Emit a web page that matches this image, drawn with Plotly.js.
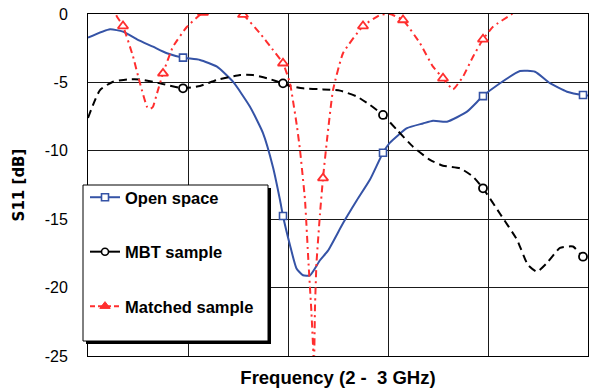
<!DOCTYPE html>
<html>
<head>
<meta charset="utf-8">
<script src="https://cdn.plot.ly/plotly-3.0.1.min.js"></script>
<style>html,body{margin:0;padding:0;background:#fff;}#chart{width:591px;height:388px;}</style>
</head>
<body>
<div id="chart"></div>
<script>
// ---- Data ----
const openFreq = [2.000,2.044,2.070,2.098,2.130,2.158,2.190,2.224,2.258,2.290,2.324,2.350,2.370,2.384,2.390,2.404,2.417,2.430,2.444,2.464,2.480,2.510,2.538,2.564,2.590,2.604,2.638,2.670,2.690,2.718,2.758,2.790,2.824,2.864,2.894,2.924,2.958,2.990,3.000];
const openVals = [-1.73,-1.12,-1.29,-1.85,-2.39,-2.87,-3.19,-3.36,-3.85,-4.95,-6.78,-8.7,-11.2,-13.6,-14.77,-16.9,-18.6,-19.1,-19.1,-18.0,-17.3,-15.3,-13.6,-12.1,-10.14,-9.4,-8.35,-8.0,-7.8,-7.87,-7.14,-6.0,-5.06,-4.17,-4.22,-5.06,-5.68,-5.92,-5.95];
const openMarks = [2.190,2.390,2.590,2.790,2.990];

const mbtFreq = [2.000,2.024,2.050,2.078,2.104,2.144,2.190,2.224,2.258,2.304,2.330,2.358,2.390,2.404,2.430,2.470,2.504,2.538,2.564,2.590,2.618,2.650,2.684,2.710,2.744,2.770,2.790,2.824,2.858,2.880,2.898,2.918,2.944,2.970,2.990,3.000];
const mbtVals = [-7.6,-5.56,-4.95,-4.78,-4.78,-5.07,-5.43,-5.26,-4.82,-4.46,-4.46,-4.70,-5.07,-5.26,-5.43,-5.51,-5.60,-6.04,-6.65,-7.38,-8.48,-9.70,-10.67,-11.09,-11.28,-11.89,-12.74,-14.6,-16.5,-18.35,-18.84,-18.2,-17.1,-17.0,-17.74,-17.8];
const mbtMarks = [2.190,2.390,2.590,2.790,2.990];

const matchFreq = [2.040,2.058,2.070,2.090,2.104,2.118,2.124,2.130,2.138,2.150,2.170,2.198,2.230,2.260,2.290,2.310,2.344,2.370,2.390,2.404,2.418,2.424,2.434,2.441,2.447,2.451,2.4518,2.4525,2.454,2.457,2.464,2.470,2.478,2.490,2.510,2.550,2.584,2.604,2.630,2.664,2.690,2.710,2.730,2.750,2.770,2.790,2.810,2.848,2.870,2.920,2.950,3.000];
const matchVals = [1.0,-0.2,-0.88,-3.1,-5.07,-6.78,-6.95,-6.78,-5.8,-4.34,-2.39,-0.93,0.1,0.4,0.2,-0.05,-1.41,-2.63,-3.6,-5.07,-8.24,-9.94,-13.6,-18.2,-21.9,-25.0,-25.8,-25.0,-21.4,-18.2,-14.6,-12.0,-9.2,-5.56,-2.87,-0.88,-0.07,0.0,-0.44,-2.14,-3.85,-4.7,-5.51,-4.58,-3.12,-1.85,-0.93,0.0,0.5,1.0,1.0,1.0];
const matchMarks = [2.070,2.150,2.230,2.310,2.390,2.470,2.550,2.630,2.710,2.790,2.870,2.950];

const seriesNames = ['Open space','MBT sample','Matched sample'];
const yTickVals = [0,-5,-10,-15,-20,-25];
const yTickLabels = ['0','-5','-10','-15','-20','-25'];
const xGridVals = [2.0,2.2,2.4,2.6,2.8,3.0];

// ---- helpers ----
function pick(freq, vals, marks){
  return marks.map(m => {
    let best = 0, bd = 1e9;
    freq.forEach((f,i)=>{ const d = Math.abs(f-m); if(d<bd){bd=d;best=i;} });
    return vals[best];
  });
}

const BLUE = '#3553a6', BLACK = '#000000', RED = '#ff2e2e';
const BLACK_DASH = '8px,5px';
const RED_DASH = '7px,4px,2px,4px';

const traces = [
  {x: openFreq, y: openVals, mode:'lines', line:{color:BLUE, width:2, shape:'spline', smoothing:0.5}, showlegend:false, hoverinfo:'skip'},
  {x: openMarks, y: pick(openFreq, openVals, openMarks), mode:'markers', marker:{symbol:'square', size:7, color:'white', line:{color:BLUE, width:1.6}}, showlegend:false},
  {x: mbtFreq, y: mbtVals, mode:'lines', line:{color:BLACK, width:2, dash:BLACK_DASH, shape:'spline', smoothing:0.5}, showlegend:false, hoverinfo:'skip'},
  {x: mbtMarks, y: pick(mbtFreq, mbtVals, mbtMarks), mode:'markers', marker:{symbol:'circle', size:8, color:'white', line:{color:BLACK, width:1.8}}, showlegend:false},
  {x: matchFreq, y: matchVals, mode:'lines', line:{color:RED, width:2, dash:RED_DASH, shape:'spline', smoothing:0.4}, showlegend:false, hoverinfo:'skip'},
  {x: matchMarks, y: pick(matchFreq, matchVals, matchMarks), mode:'markers', marker:{symbol:'triangle-up', size:9, color:'white', line:{color:RED, width:1.8}}, showlegend:false},
  // legend entries
  {x:[null], y:[null], name: seriesNames[0], mode:'lines+markers', legendgroup:'a', line:{color:BLUE, width:2}, marker:{symbol:'square', size:7, color:'white', line:{color:BLUE, width:1.6}}},
  {x:[null], y:[null], name: seriesNames[1], mode:'lines+markers', legendgroup:'b', line:{color:BLACK, width:2}, marker:{symbol:'circle', size:7, color:'white', line:{color:BLACK, width:1.6}}},
  {x:[null], y:[null], name: seriesNames[2], mode:'lines+markers', legendgroup:'c', line:{color:RED, width:2, dash:'5px,3px'}, marker:{symbol:'triangle-up', size:9, color:RED, line:{color:RED, width:1}}}
];

const pl = 88, pr = 588, pt = 14, pb = 356;
const px2x = p => (p-pl)/(pr-pl);
const py2y = p => (pb-p)/(pb-pt);

const layout = {
  width:591, height:388,
  margin:{l:88, r:3, t:14, b:32, pad:0},
  paper_bgcolor:'white', plot_bgcolor:'white',
  font:{family:'Arial, "Liberation Sans", sans-serif', color:'#000'},
  xaxis:{
    range:[2,3], tickvals:xGridVals, showticklabels:false, ticks:'',
    showgrid:true, gridcolor:'#1a1a1a', gridwidth:1, zeroline:false,
    showline:true, linecolor:'#000', linewidth:1, mirror:true,
    title:{text:'Frequency (2 -\u00a0 3 GHz)', font:{size:18.5, weight:'bold', family:'Arial, "Liberation Sans", sans-serif'}, standoff:15}
  },
  yaxis:{
    range:[-25,0], tickvals:yTickVals, ticktext:yTickLabels, ticks:'', ticklabelstandoff:16,
    tickfont:{size:16, family:'Arial, "Liberation Sans", sans-serif'},
    showgrid:true, gridcolor:'#1a1a1a', gridwidth:1, zeroline:false,
    showline:true, linecolor:'#000', linewidth:1, mirror:true,
    title:{text:'S11 [dB]', font:{size:15, weight:'bold', family:'"DejaVu Sans", sans-serif'}, standoff:16}
  },
  showlegend:true,
  legend:{
    x:px2x(85), y:py2y(180), xanchor:'left', yanchor:'top',
    bgcolor:'rgba(0,0,0,0)', borderwidth:0,
    traceorder:'grouped', tracegroupgap:30, itemwidth:30,
    font:{size:16.5, weight:'bold', family:'Arial, "Liberation Sans", sans-serif', color:'#000'}
  },
  shapes:[
    {type:'rect', xref:'paper', yref:'paper', x0:px2x(86), x1:px2x(271), y0:py2y(344), y1:py2y(188), fillcolor:'#000', line:{width:0}, layer:'above'},
    {type:'rect', xref:'paper', yref:'paper', x0:px2x(83), x1:px2x(268), y0:py2y(341), y1:py2y(185), fillcolor:'#fff', line:{color:'#000', width:1}, layer:'above'}
  ]
};

Plotly.newPlot('chart', traces, layout, {displayModeBar:false, staticPlot:true});
</script>
</body>
</html>
